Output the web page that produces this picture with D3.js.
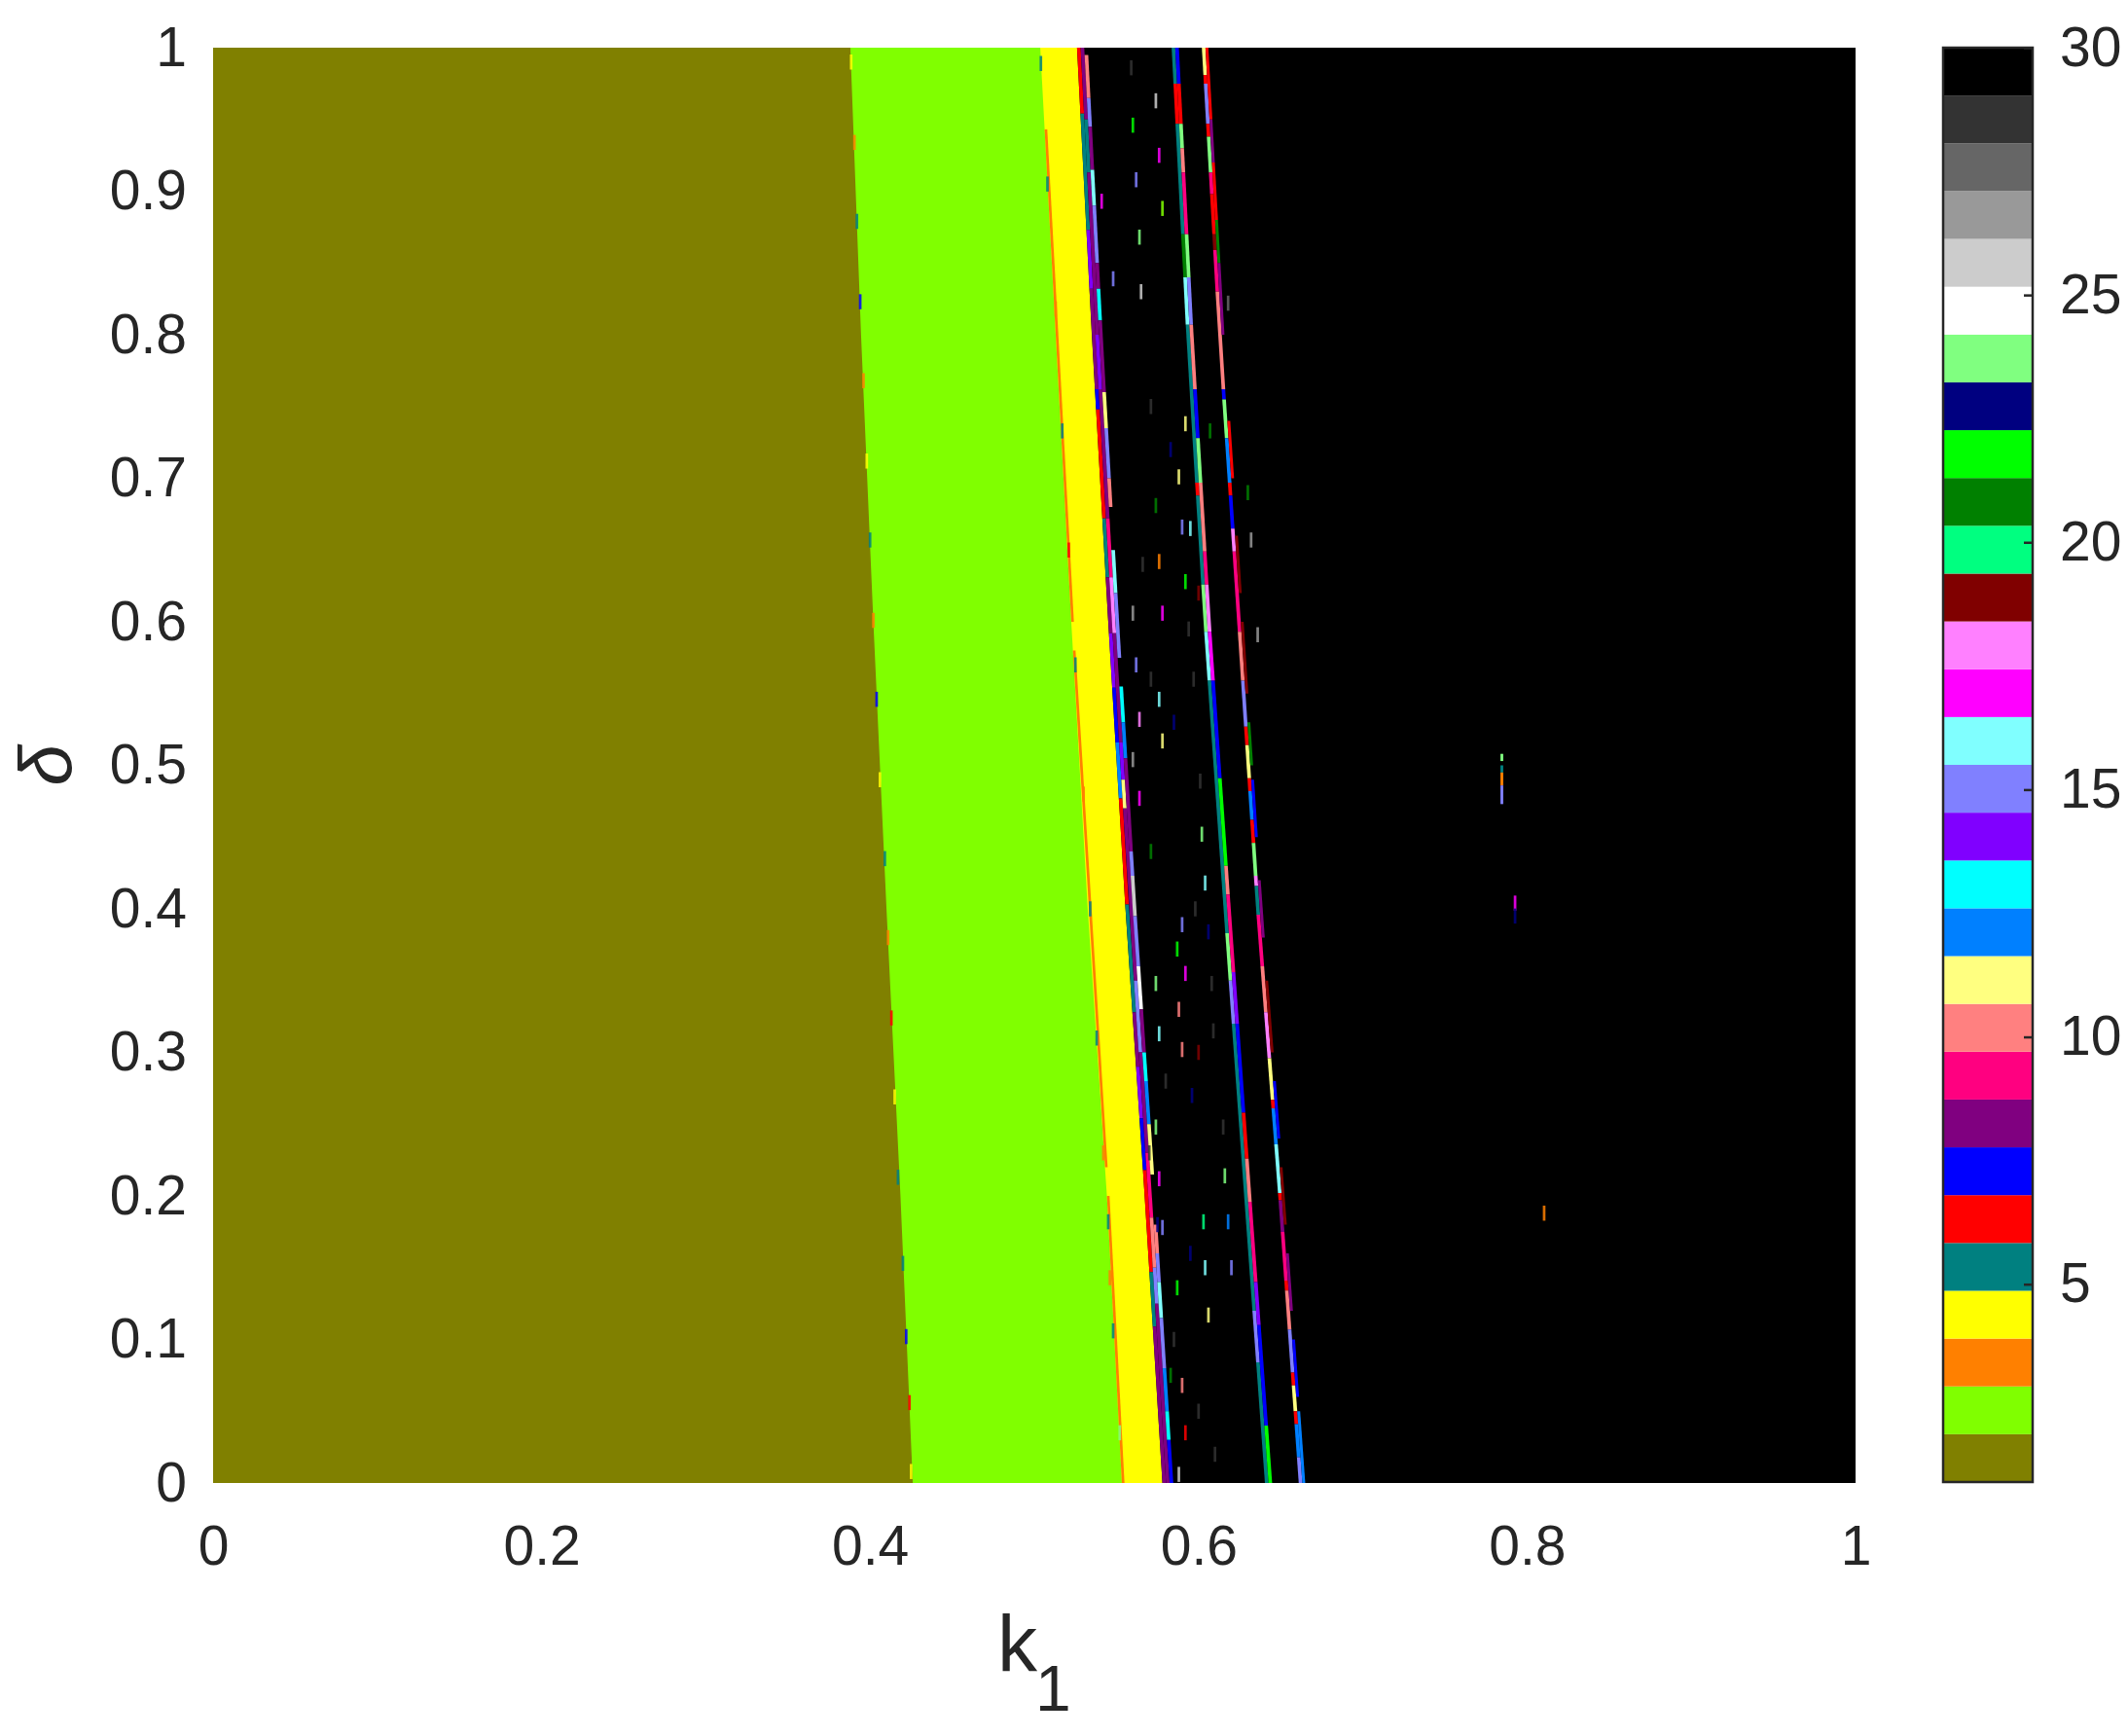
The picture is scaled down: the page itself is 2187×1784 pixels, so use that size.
<!DOCTYPE html>
<html><head><meta charset="utf-8">
<script src="https://cdn.jsdelivr.net/npm/d3@7"></script>
<style>
html,body{margin:0;padding:0;background:#fff;}
svg{display:block;}
text{font-family:"Liberation Sans",Arial,Helvetica,sans-serif;fill:#262626;}
</style>
</head><body>
<svg id="chart" width="2187" height="1784"></svg>
<script>
// ---------- colormap: period 1..30 ----------
const periodColors = ["#808000","#80FF00","#FF8000","#FFFF00","#008080","#FF0000","#0000FF","#800080","#FF0080","#FF8080",
  "#FFFF80","#0080FF","#00FFFF","#8000FF","#8080FF","#80FFFF","#FF00FF","#FF80FF","#800000","#00FF80",
  "#008000","#00FF00","#000080","#80FF80","#FFFFFF","#CCCCCC","#999999","#666666","#333333","#000000"];
const periods = d3.range(1, 31);
const colorbarTicks = [5, 10, 15, 20, 25, 30];
const xTicks = [0, 0.2, 0.4, 0.6, 0.8, 1];
const yTicks = [0, 0.1, 0.2, 0.3, 0.4, 0.5, 0.6, 0.7, 0.8, 0.9, 1];

// ---------- region boundaries (k1 read at delta levels) ----------
const deltaLevels     = [0, 0.2, 0.4, 0.6, 0.8, 1];
const edgeOliveGreen  = [0.426, 0.4185, 0.410, 0.402, 0.3945, 0.388];
const edgeGreenYellow = [0.5533, 0.5442, 0.5325, 0.5225, 0.513, 0.5036];
const edgeYellowStrip = [0.578, 0.5672, 0.5555, 0.545, 0.535, 0.526];
const edgeLineA       = [0.6404, 0.6277, 0.6152, 0.603, 0.5925, 0.5836];
const edgeLineB       = [0.661, 0.6485, 0.635, 0.6235, 0.6118, 0.602];
const chaosPeriod = 30, period1 = 1, period2 = 2, period4 = 4;

// ---------- colored segments [deltaTop, deltaBottom, period] ----------
const orangeSegs = [[0.943,0.60,3],[0.58,0.22,3],[0.20,0.0,3]];
const stripCol1 = [[1.000,0.954,6],[0.954,0.873,5],[0.873,0.832,14],[0.832,0.762,8],[0.762,0.748,7],[0.748,0.672,6],
  [0.672,0.631,5],[0.631,0.592,8],[0.592,0.554,14],[0.554,0.516,7],[0.516,0.477,12],[0.477,0.403,6],[0.403,0.328,5],
  [0.328,0.290,8],[0.290,0.254,14],[0.254,0.218,7],[0.218,0.147,6],[0.147,0.109,5],[0.109,0.0,8]];
const stripCol2 = [[1.000,0.950,8],[0.950,0.913,5],[0.913,0.800,8],[0.800,0.762,14],[0.762,0.672,8],[0.672,0.631,9],
  [0.631,0.592,18],[0.592,0.516,8],[0.516,0.490,14],[0.490,0.470,11],[0.470,0.350,8],[0.350,0.300,15],[0.300,0.230,8],
  [0.230,0.185,9],[0.185,0.150,10],[0.150,0.125,15],[0.125,0.0,8]];
const stripCol3 = [[0.995,0.965,10],[0.965,0.945,15],[0.945,0.915,8],[0.915,0.890,16],[0.890,0.850,15],[0.850,0.832,8],
  [0.832,0.810,13],[0.810,0.760,8],[0.760,0.735,11],[0.735,0.700,15],[0.700,0.680,10],[0.650,0.620,16],[0.620,0.575,15],
  [0.555,0.530,13],[0.530,0.505,12],[0.505,0.440,8],[0.440,0.423,15],[0.423,0.395,26],[0.395,0.360,15],[0.360,0.330,25],
  [0.330,0.300,8],[0.300,0.280,13],[0.280,0.250,12],[0.250,0.215,11],[0.180,0.160,10],[0.160,0.140,15],[0.140,0.115,16],
  [0.115,0.080,15],[0.080,0.050,12],[0.050,0.030,13],[0.030,0.0,7]];
const lineACol1 = [[1.0,0.975,5],[0.975,0.947,6],[0.947,0.870,5],[0.870,0.840,21],[0.840,0.807,16],[0.807,0.697,5],
  [0.697,0.688,6],[0.688,0.626,5],[0.626,0.593,24],[0.593,0.559,16],[0.559,0.383,5],[0.383,0.350,24],[0.350,0.320,15],
  [0.320,0.120,5],[0.120,0.084,15],[0.084,0.0,5]];
const lineACol2 = [[1.0,0.975,7],[0.975,0.947,6],[0.947,0.930,24],[0.930,0.913,10],[0.913,0.870,9],[0.870,0.840,24],
  [0.840,0.807,15],[0.807,0.762,10],[0.762,0.728,7],[0.728,0.697,24],[0.697,0.649,10],[0.649,0.626,9],[0.626,0.593,18],
  [0.593,0.559,17],[0.559,0.491,7],[0.491,0.430,22],[0.430,0.410,10],[0.410,0.356,9],[0.356,0.320,14],[0.320,0.258,7],
  [0.258,0.226,6],[0.226,0.196,10],[0.196,0.140,9],[0.140,0.110,14],[0.110,0.040,7],[0.040,0.0,22]];
const lineBCol1 = [[1.000,0.981,11],[0.981,0.975,6],[0.975,0.947,15],[0.947,0.938,6],[0.938,0.913,24],[0.913,0.898,9],
  [0.898,0.870,6],[0.870,0.859,19],[0.859,0.830,9],[0.830,0.762,10],[0.762,0.755,7],[0.755,0.728,24],[0.728,0.697,12],
  [0.697,0.688,6],[0.688,0.665,7],[0.665,0.649,18],[0.649,0.593,9],[0.593,0.559,10],[0.559,0.527,15],[0.527,0.514,6],
  [0.514,0.491,11],[0.491,0.482,6],[0.482,0.462,12],[0.462,0.446,6],[0.446,0.423,24],[0.423,0.416,18],[0.416,0.396,5],
  [0.396,0.360,9],[0.360,0.328,10],[0.328,0.296,18],[0.296,0.267,11],[0.267,0.261,6],[0.261,0.236,12],[0.236,0.202,16],
  [0.202,0.197,6],[0.197,0.175,8],[0.175,0.141,9],[0.141,0.134,6],[0.134,0.107,10],[0.107,0.077,15],[0.077,0.068,6],
  [0.068,0.050,11],[0.050,0.041,6],[0.041,0.018,12],[0.018,0.0,15]];
const lineBCol2 = [[1.0,0.95,6],[0.95,0.92,8],[0.92,0.88,6],[0.88,0.85,21],[0.85,0.80,8],[0.74,0.70,6],[0.66,0.62,19],
  [0.60,0.55,19],[0.53,0.50,21],[0.49,0.45,7],[0.42,0.38,8],[0.35,0.30,19],[0.28,0.24,7],[0.22,0.18,19],[0.16,0.12,8],
  [0.10,0.06,7],[0.05,0.0,12]];
const isolatedLine = [[0.508,0.503,24],[0.500,0.495,5],[0.495,0.486,3],[0.486,0.473,15]];
const isolatedLineK1 = 0.7838;

// ---------- specks [k1, delta, period] ----------
const specks = [
  [0.574,0.963,26],[0.560,0.946,22],[0.576,0.925,17],[0.562,0.908,15],[0.541,0.893,17],[0.578,0.888,2],[0.564,0.868,24],
  [0.565,0.830,26],[0.548,0.839,15],[0.559,0.986,29],[0.618,0.822,28],
  [0.588,0.701,11],[0.574,0.681,21],[0.590,0.666,15],[0.595,0.665,16],[0.576,0.642,3],[0.592,0.628,22],[0.578,0.606,17],
  [0.560,0.606,27],[0.594,0.595,29],[0.562,0.570,15],[0.576,0.546,16],[0.564,0.532,18],[0.578,0.517,11],[0.560,0.504,27],
  [0.601,0.489,29],[0.564,0.477,17],[0.602,0.452,24],[0.632,0.657,27],[0.636,0.591,27],[0.630,0.690,21],[0.607,0.733,21],
  [0.592,0.738,11],
  [0.604,0.418,16],[0.590,0.389,15],[0.606,0.384,23],[0.587,0.372,22],[0.592,0.355,17],[0.574,0.348,24],[0.608,0.348,29],
  [0.588,0.330,10],[0.576,0.313,16],[0.590,0.302,10],[0.609,0.315,29],[0.615,0.248,29],[0.574,0.248,24],[0.616,0.214,24],
  [0.603,0.182,20],[0.618,0.182,12],[0.576,0.212,17],[0.578,0.178,15],[0.604,0.150,16],[0.620,0.150,15],[0.587,0.136,22],
  [0.606,0.117,11],[0.590,0.068,10],[0.592,0.035,6],[0.583,0.075,21],[0.588,0.006,26],
  [0.7927,0.404,17],[0.7927,0.395,23],[0.8104,0.188,3],
  [0.571,0.750,29],[0.583,0.720,23],[0.566,0.640,29],[0.600,0.620,19],[0.571,0.560,29],[0.585,0.530,23],[0.597,0.560,29],
  [0.571,0.440,21],[0.598,0.400,29],[0.580,0.280,29],[0.596,0.270,23],[0.570,0.230,29],[0.600,0.300,19],[0.585,0.100,29],
  [0.595,0.160,23],[0.600,0.050,29],[0.610,0.020,29],[0.575,0.180,23]];
const boundarySpecks = [
  [0.3885,0.990,4],[0.3905,0.934,3],[0.392,0.879,5],[0.394,0.823,7],[0.396,0.768,3],[0.398,0.712,4],[0.400,0.657,5],
  [0.402,0.601,3],[0.404,0.546,7],[0.406,0.490,4],[0.409,0.435,5],[0.411,0.380,3],[0.413,0.324,6],[0.415,0.269,4],
  [0.417,0.213,5],[0.420,0.153,5],[0.422,0.102,7],[0.424,0.056,6],[0.425,0.008,4],
  [0.504,0.989,5],[0.508,0.905,5],[0.513,0.818,3],[0.517,0.733,5],[0.521,0.650,6],[0.525,0.570,5],[0.530,0.480,3],
  [0.534,0.400,5],[0.538,0.310,5],[0.542,0.230,3],[0.545,0.182,5],[0.546,0.143,3],[0.548,0.106,5],[0.552,0.035,24]];

// ---------- layout ----------
const svg = d3.select("#chart");
const plot = {left: 219, right: 1907, top: 49, bottom: 1524};
const cbar = {left: 1997, right: 2089, top: 49, bottom: 1523};
const cellW = 0.0016, cellH = 0.0105, colW = 0.0022;

const x = d3.scaleLinear().domain([0, 1]).range([plot.left, plot.right]);
const y = d3.scaleLinear().domain([0, 1]).range([plot.bottom, plot.top]);
const color = d3.scaleOrdinal().domain(periods).range(periodColors);
const edge = arr => d3.scaleLinear().domain(deltaLevels).range(arr);
const eOG = edge(edgeOliveGreen), eGY = edge(edgeGreenYellow), eYS = edge(edgeYellowStrip),
      eA = edge(edgeLineA), eB = edge(edgeLineB);

const g = svg.append("g");
// chaos background
g.append("rect").attr("x", x(0)).attr("y", y(1)).attr("width", x(1) - x(0)).attr("height", y(0) - y(1))
  .attr("fill", color(chaosPeriod));

const line = d3.line().x(d => x(d[0])).y(d => y(d[1]));
function regionTo(edgeArr, p) {
  const pts = [[0, 0]].concat(deltaLevels.map((d, i) => [edgeArr[i], d])).concat([[0, 1]]);
  g.append("path").attr("d", line(pts) + "Z").attr("fill", color(p));
}
regionTo(edgeYellowStrip, period4);
regionTo(edgeGreenYellow, period2);
regionTo(edgeOliveGreen, period1);

function band(edgeScale, offset, width, segs) {
  g.append("g").selectAll("path").data(segs).join("path")
    .attr("d", s => line([[edgeScale(s[0]) + offset, s[0]], [edgeScale(s[0]) + offset + width, s[0]],
                          [edgeScale(s[1]) + offset + width, s[1]], [edgeScale(s[1]) + offset, s[1]]]) + "Z")
    .attr("fill", s => color(s[2]));
}
band(eGY, 0, 0.0016, orangeSegs);
band(eYS, 0, colW, stripCol1);
band(eYS, colW, colW, stripCol2);
band(eYS, 2 * colW, colW, stripCol3);
band(eA, 0, colW, lineACol1);
band(eA, colW, colW, lineACol2);
band(eB, 0, colW, lineBCol1);
band(eB, colW, colW * 0.8, lineBCol2);

g.append("g").selectAll("rect").data(isolatedLine).join("rect")
  .attr("x", x(isolatedLineK1)).attr("width", x(0.0017) - x(0))
  .attr("y", s => y(s[0])).attr("height", s => y(s[1]) - y(s[0]))
  .attr("fill", s => color(s[2]));

g.append("g").selectAll("rect").data(specks.concat(boundarySpecks)).join("rect")
  .attr("x", s => x(s[0] - cellW / 2)).attr("width", x(cellW) - x(0))
  .attr("y", s => y(s[1] + cellH / 2)).attr("height", y(0) - y(cellH))
  .attr("fill", s => color(s[2])).attr("fill-opacity", 0.85);

// ---------- axes ----------
const fmt = d3.format("~g");
const xAxis = svg.append("g").attr("transform", `translate(0,${plot.bottom})`)
  .call(d3.axisBottom(x).tickValues(xTicks).tickSize(0).tickPadding(44).tickFormat(fmt));
const yAxis = svg.append("g").attr("transform", `translate(${plot.left},0)`)
  .call(d3.axisLeft(y).tickValues(yTicks).tickSize(0).tickPadding(27).tickFormat(fmt));
[xAxis, yAxis].forEach(a => {
  a.select(".domain").remove();
  a.selectAll("text").attr("font-size", 57).attr("fill", "#262626")
    .style("font-family", '"Liberation Sans", Arial, sans-serif');
});

// axis labels
svg.append("text").attr("x", 1025).attr("y", 1717).attr("font-size", 82).text("k");
svg.append("text").attr("x", 1064).attr("y", 1758).attr("font-size", 66).text("1");
svg.append("text").attr("transform", `translate(73,${(plot.top + plot.bottom) / 2}) rotate(-90)`)
  .attr("text-anchor", "middle").attr("font-size", 76).attr("font-style", "italic").text("δ");

// ---------- colorbar ----------
const cb = d3.scaleLinear().domain([1, 30]).range([cbar.bottom, cbar.top]);
const bandSize = 29 / 30;
const cg = svg.append("g");
cg.selectAll("rect").data(periods).join("rect")
  .attr("x", cbar.left).attr("width", cbar.right - cbar.left)
  .attr("y", p => cb(1 + p * bandSize)).attr("height", p => cb(1 + (p - 1) * bandSize) - cb(1 + p * bandSize))
  .attr("fill", p => color(p));
cg.append("rect").attr("x", cbar.left).attr("y", cbar.top).attr("width", cbar.right - cbar.left)
  .attr("height", cbar.bottom - cbar.top).attr("fill", "none").attr("stroke", "#262626").attr("stroke-width", 2.5);
const cAxis = svg.append("g").attr("transform", `translate(${cbar.right},0)`)
  .call(d3.axisRight(cb).tickValues(colorbarTicks).tickSizeInner(-9).tickSizeOuter(0).tickPadding(28));
cAxis.select(".domain").remove();
cAxis.selectAll("line").attr("stroke", "#262626").attr("stroke-width", 2.5);
cAxis.selectAll("text").attr("font-size", 57).attr("fill", "#262626")
  .style("font-family", '"Liberation Sans", Arial, sans-serif');
</script>
</body></html>
